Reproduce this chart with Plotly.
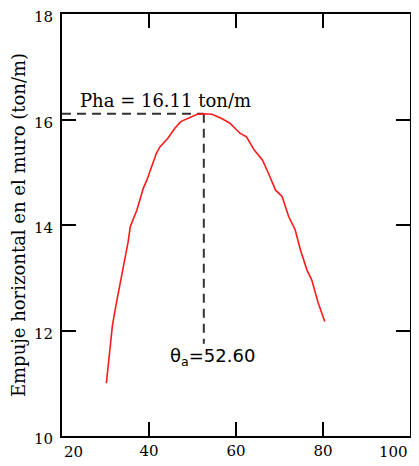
import plotly.graph_objects as go

# Data
theta = [30.2, 30.8, 31.6, 32.5, 33.3, 34.4, 35.2, 35.7, 37.2, 38.7, 39.5, 41.7, 42.5,
         44.3, 45.9, 47.3, 50.0, 51.1, 52.6, 54.5, 56.7, 58.6, 60.9, 62.4, 64.2, 66.1,
         67.3, 69.1, 70.6, 72.1, 73.6, 74.8, 76.3, 77.4, 78.9, 80.4]
pha = [11.00, 11.47, 12.10, 12.52, 12.86, 13.27, 13.68, 13.97, 14.28, 14.70, 14.85, 15.36, 15.48,
       15.64, 15.83, 15.96, 16.05, 16.10, 16.11, 16.10, 16.02, 15.93, 15.74, 15.67, 15.42, 15.23,
       15.01, 14.66, 14.54, 14.16, 13.91, 13.53, 13.15, 12.96, 12.52, 12.17]

theta_a = 52.60
pha_max = 16.11
guide_bottom = 11.75

x_ticks = [20, 40, 60, 80, 100]
y_ticks = [10, 12, 14, 16, 18]

serif = "DejaVu Serif"
sans = "DejaVu Sans"

fig = go.Figure()

# guide lines
fig.add_trace(go.Scatter(x=[20, theta_a], y=[pha_max, pha_max], mode="lines",
                         line=dict(color="#333333", width=2, dash="9px,6px"),
                         hoverinfo="skip", showlegend=False))
fig.add_trace(go.Scatter(x=[theta_a, theta_a], y=[pha_max, guide_bottom], mode="lines",
                         line=dict(color="#333333", width=2, dash="9px,6px"),
                         hoverinfo="skip", showlegend=False))

fig.add_trace(go.Scatter(x=theta, y=pha, mode="lines",
                         line=dict(color="#ff1a1a", width=1.6),
                         showlegend=False))

fig.add_annotation(x=23.6, y=pha_max, xref="x", yref="y", text="Pha = 16.11 ton/m",
                   showarrow=False, xanchor="left", yanchor="bottom", yshift=1,
                   font=dict(family=serif, size=18, color="black"))
fig.add_annotation(x=44.3, y=11.5, xref="x", yref="y",
                   text="θ<sub>a</sub>=52.60",
                   showarrow=False, xanchor="left", yanchor="middle",
                   font=dict(family=sans, size=18, color="black"))

# edge tick labels shifted inward as in the reference
fig.add_annotation(x=20, y=0, xref="x", yref="paper", text=str(x_ticks[0]),
                   showarrow=False, xanchor="left", yanchor="top", yshift=-5,
                   font=dict(family=serif, size=15, color="black"))
fig.add_annotation(x=100, y=0, xref="x", yref="paper", text=str(x_ticks[-1]),
                   showarrow=False, xanchor="right", yanchor="top", yshift=-5,
                   font=dict(family=serif, size=15, color="black"))

fig.update_xaxes(range=[20, 100], tickvals=x_ticks[1:-1],
                 ticks="inside", ticklen=14, tickwidth=2, tickcolor="black",
                 showline=True, linewidth=2, linecolor="black", mirror="ticks",
                 showgrid=False, zeroline=False, automargin=False,
                 tickfont=dict(family=serif, size=15, color="black"))
fig.update_yaxes(range=[10, 18], tickvals=y_ticks,
                 ticks="inside", ticklen=14, tickwidth=2, tickcolor="black",
                 showline=True, linewidth=2, linecolor="black", mirror="ticks",
                 showgrid=False, zeroline=False, automargin=False,
                 ticklabeloverflow="allow", ticklabelstandoff=4, ticklabelshift=3,
                 tickfont=dict(family=serif, size=15, color="black"),
                 title=dict(text="Empuje horizontal en el muro (ton/m)",
                            font=dict(family=serif, size=18, color="black"),
                            standoff=6))

# page body adds an 8px offset, so the figure is sized to the visible area
fig.update_layout(width=403, height=458,
                  margin=dict(l=54, r=1, t=6, b=30),
                  paper_bgcolor="white", plot_bgcolor="white")

fig.write_html("out.html")
